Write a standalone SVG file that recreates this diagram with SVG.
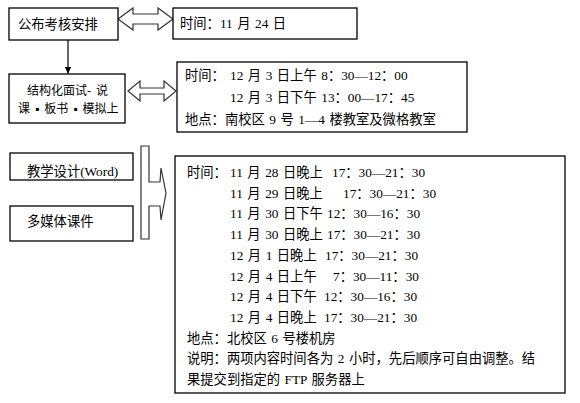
<svg xmlns="http://www.w3.org/2000/svg" width="580" height="403" viewBox="0 0 580 403" xml:space="preserve">
<style>
.box{fill:#fff;stroke:#000;stroke-width:1.3}
.conn{fill:#fff;stroke:#333;stroke-width:1.2;stroke-linejoin:miter}
.t{font-family:"Liberation Serif","Noto Sans CJK SC",serif;font-size:13.3px;fill:#000;word-spacing:1.2px}
.s{font-family:"Liberation Serif","Noto Sans CJK SC",serif;font-size:12px;fill:#000;word-spacing:2px}
</style>
<defs>
<marker id="ah" viewBox="0 0 8 8" refX="8" refY="4" markerWidth="7" markerHeight="7" markerUnits="userSpaceOnUse" orient="auto">
<path d="M0,0 L8,4 L0,8 z" fill="#000"/>
</marker>
</defs>
<rect width="580" height="403" fill="#fff"/>
<g id="connectors">
<line x1="68" y1="40" x2="68" y2="73.5" stroke="#000" stroke-width="1.2" marker-end="url(#ah)"/>
<polygon class="conn" points="118,19 133,8 133,14 158,14 158,8 173,19 158,30 158,24 133,24 133,30"/>
<polygon class="conn" points="128,91 140,81 140,88 164,88 164,81 176,91 164,101 164,94 140,94 140,101"/>
<polygon class="conn" points="141,146 149,146 149,182 160,182 161,168 166,193 161,220 160,206 149,206 149,239 141,239"/>
</g>
<g id="node-publish">
<rect class="box" x="9" y="8" width="109" height="32"/>
<text class="t" x="18" y="29">公布考核安排</text>
</g>
<g id="node-publish-time">
<rect class="box" x="173" y="8" width="184" height="31"/>
<text class="t" x="180" y="28">时间：11 月 24 日</text>
</g>
<g id="node-interview">
<rect class="box" x="9" y="74" width="116" height="49"/>
<text class="s" x="27" y="94.5">结构化面试- 说</text>
<text class="s" x="18" y="112.5">课 ▪ 板书 ▪ 模拟上</text>
</g>
<g id="node-interview-time">
<rect class="box" x="177" y="62" width="290" height="70"/>
<text class="t" x="185" y="80">时间：<tspan x="230">12 月 3 日上午 8：30—12：00</tspan></text>
<text class="t" x="230" y="102">12 月 3 日下午 13：00—17：45</text>
<text class="t" x="185" y="124">地点：南校区 9 号 1—4 楼教室及微格教室</text>
</g>
<g id="node-design">
<rect class="box" x="10" y="153" width="123" height="27"/>
<text class="t" x="27" y="176">教学设计(Word)</text>
</g>
<g id="node-multimedia">
<rect class="box" x="10" y="206" width="123" height="35"/>
<text class="t" x="27" y="226">多媒体课件</text>
</g>
<g id="node-schedule">
<rect class="box" x="175" y="156" width="390" height="237"/>
<text class="t" x="187" y="177">时间：<tspan x="230">11 月 28 日晚上</tspan><tspan x="332">17：30—21：30</tspan></text>
<text class="t" x="230" y="197.7">11 月 29 日晚上<tspan x="343">17：30—21：30</tspan></text>
<text class="t" x="230" y="218.4">11 月 30 日下午<tspan x="327">12：30—16：30</tspan></text>
<text class="t" x="230" y="239.1">11 月 30 日晚上<tspan x="327">17：30—21：30</tspan></text>
<text class="t" x="230" y="259.8">12 月 1 日晚上<tspan x="325">17：30—21：30</tspan></text>
<text class="t" x="230" y="280.5">12 月 4 日上午<tspan x="333">7：30—11：30</tspan></text>
<text class="t" x="230" y="301.2">12 月 4 日下午<tspan x="324">12：30—16：30</tspan></text>
<text class="t" x="230" y="321.9">12 月 4 日晚上<tspan x="324">17：30—21：30</tspan></text>
<text class="t" x="187" y="342.6">地点：北校区 6 号楼机房</text>
<text class="t" x="187" y="363.3">说明：两项内容时间各为 2 小时，先后顺序可自由调整。结</text>
<text class="t" x="187" y="384">果提交到指定的 FTP 服务器上</text>
</g>
</svg>
